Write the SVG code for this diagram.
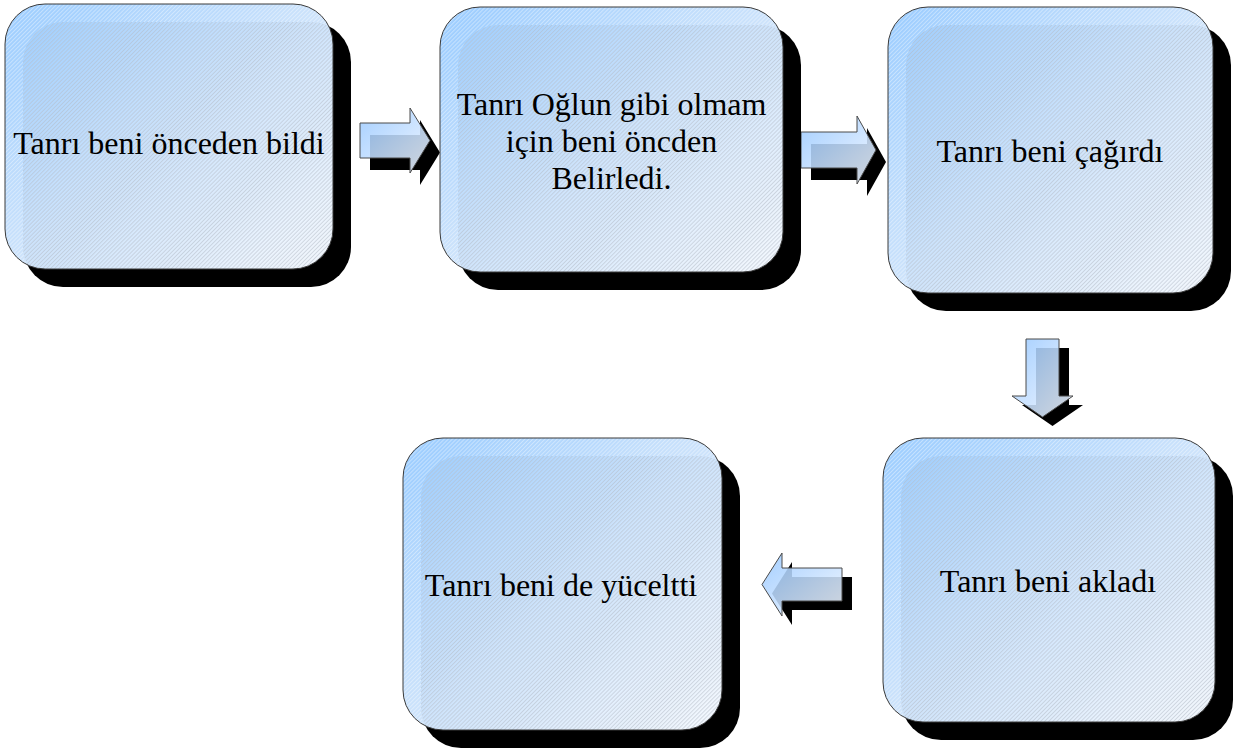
<svg xmlns="http://www.w3.org/2000/svg" width="1234" height="751" viewBox="0 0 1234 751">
<style>
.shadow{fill:#000;}
.box{fill:url(#boxGrad);}
.lightHatch{fill:url(#whiteHatch);}
.darkHatch{fill:url(#greyHatch);}
.outline{fill:none;stroke:#3a3a3a;stroke-width:1;}
.lbl{font-family:"Liberation Serif","Times New Roman",serif;font-size:32px;fill:#000;text-anchor:middle;}
.arrowShadow{fill:#000;}
.arrow{fill:url(#arrowGrad);fill-opacity:0.88;stroke:#4a4a4a;stroke-width:1;}
</style>
<defs>
<linearGradient id="boxGrad" x1="0" y1="0" x2="1" y2="1">
<stop offset="0" stop-color="#9ACCFF"/>
<stop offset="0.5" stop-color="#CDE3FB"/>
<stop offset="1" stop-color="#F4F8FD"/>
</linearGradient>
<linearGradient id="arrowGrad" x1="0" y1="0" x2="1" y2="1">
<stop offset="0" stop-color="#98C8FF"/>
<stop offset="1" stop-color="#F0F6FF"/>
</linearGradient>
<pattern id="whiteHatch" patternUnits="userSpaceOnUse" width="2.85" height="2.85" patternTransform="rotate(-45)">
<rect width="2.85" height="0.9" fill="#fff" fill-opacity="0.4"/>
</pattern>
<pattern id="greyHatch" patternUnits="userSpaceOnUse" width="2.85" height="2.85" patternTransform="rotate(-45)">
<rect width="2.85" height="0.9" fill="#50607a" fill-opacity="0.24"/>
</pattern>
<clipPath id="c1"><rect x="5" y="4" width="328" height="265" rx="40"/></clipPath>
<clipPath id="c2"><rect x="440" y="7" width="343" height="265" rx="40"/></clipPath>
<clipPath id="c3"><rect x="888" y="7" width="325" height="286" rx="40"/></clipPath>
<clipPath id="c4"><rect x="883" y="438" width="332" height="284" rx="40"/></clipPath>
<clipPath id="c5"><rect x="403" y="438" width="319" height="292" rx="40"/></clipPath>
</defs>
<rect x="0" y="0" width="1234" height="751" fill="#fff"/>

<g id="connectors">
<g id="arrow-1-2">
<path class="arrowShadow" transform="translate(10,12)" d="M360,123 H410 V108 L430,140.5 L410,173 V158 H360 Z"/>
<path class="arrow" d="M360,123 H410 V108 L430,140.5 L410,173 V158 H360 Z"/>
</g>
<g id="arrow-2-3">
<path class="arrowShadow" transform="translate(10,12)" d="M801,132 H857 V116 L876,150 L857,184 V168 H801 Z"/>
<path class="arrow" d="M801,132 H857 V116 L876,150 L857,184 V168 H801 Z"/>
</g>
<g id="arrow-3-4">
<path class="arrowShadow" transform="translate(10,9)" d="M1026,339 H1059 V396 H1073 L1042.5,417 L1012,396 H1026 Z"/>
<path class="arrow" d="M1026,339 H1059 V396 H1073 L1042.5,417 L1012,396 H1026 Z"/>
</g>
<g id="arrow-4-5">
<path class="arrowShadow" transform="translate(10,9)" d="M842,568 H782 V553 L762,584.5 L782,616 V601 H842 Z"/>
<path class="arrow" d="M842,568 H782 V553 L762,584.5 L782,616 V601 H842 Z"/>
</g>
</g>

<g id="node-1">
<rect class="shadow" x="23" y="22" width="328" height="265" rx="40"/>
<rect class="box" x="5" y="4" width="328" height="265" rx="40"/>
<g clip-path="url(#c1)">
<rect class="lightHatch" x="5" y="4" width="328" height="265"/>
<rect class="darkHatch" x="23" y="22" width="328" height="265" rx="40"/>
</g>
<rect class="outline" x="5" y="4" width="328" height="265" rx="40"/>
<text class="lbl" x="169" y="154">Tanrı beni önceden bildi</text>
</g>

<g id="node-2">
<rect class="shadow" x="458" y="25" width="343" height="265" rx="40"/>
<rect class="box" x="440" y="7" width="343" height="265" rx="40"/>
<g clip-path="url(#c2)">
<rect class="lightHatch" x="440" y="7" width="343" height="265"/>
<rect class="darkHatch" x="458" y="25" width="343" height="265" rx="40"/>
</g>
<rect class="outline" x="440" y="7" width="343" height="265" rx="40"/>
<text class="lbl" x="611.5" y="115">Tanrı Oğlun gibi olmam</text>
<text class="lbl" x="611.5" y="152">için beni öncden</text>
<text class="lbl" x="611.5" y="189">Belirledi.</text>
</g>

<g id="node-3">
<rect class="shadow" x="906" y="25" width="325" height="286" rx="40"/>
<rect class="box" x="888" y="7" width="325" height="286" rx="40"/>
<g clip-path="url(#c3)">
<rect class="lightHatch" x="888" y="7" width="325" height="286"/>
<rect class="darkHatch" x="906" y="25" width="325" height="286" rx="40"/>
</g>
<rect class="outline" x="888" y="7" width="325" height="286" rx="40"/>
<text class="lbl" x="1050" y="162">Tanrı beni çağırdı</text>
</g>

<g id="node-4">
<rect class="shadow" x="901" y="456" width="332" height="284" rx="40"/>
<rect class="box" x="883" y="438" width="332" height="284" rx="40"/>
<g clip-path="url(#c4)">
<rect class="lightHatch" x="883" y="438" width="332" height="284"/>
<rect class="darkHatch" x="901" y="456" width="332" height="284" rx="40"/>
</g>
<rect class="outline" x="883" y="438" width="332" height="284" rx="40"/>
<text class="lbl" x="1048" y="592">Tanrı beni akladı</text>
</g>

<g id="node-5">
<rect class="shadow" x="421" y="456" width="319" height="292" rx="40"/>
<rect class="box" x="403" y="438" width="319" height="292" rx="40"/>
<g clip-path="url(#c5)">
<rect class="lightHatch" x="403" y="438" width="319" height="292"/>
<rect class="darkHatch" x="421" y="456" width="319" height="292" rx="40"/>
</g>
<rect class="outline" x="403" y="438" width="319" height="292" rx="40"/>
<text class="lbl" x="561" y="596">Tanrı beni de yüceltti</text>
</g>
</svg>
